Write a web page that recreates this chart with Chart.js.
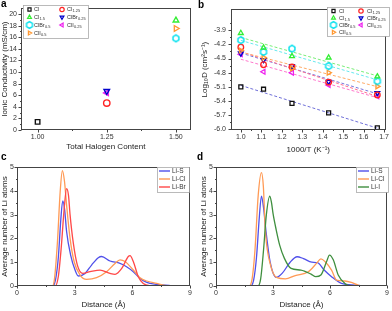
<!DOCTYPE html>
<html><head><meta charset="utf-8">
<script src="https://cdn.jsdelivr.net/npm/chart.js@4"></script>
<style>
body{margin:0;background:#fff;width:392px;height:311px;overflow:hidden;position:relative}
canvas{position:absolute}
</style></head><body>
<canvas id="ca" width="196" height="155" style="left:0;top:0"></canvas>
<canvas id="cb" width="196" height="155" style="left:196px;top:0"></canvas>
<canvas id="cc" width="196" height="161" style="left:0;top:150px"></canvas>
<canvas id="cd" width="196" height="161" style="left:196px;top:150px"></canvas>
<script>
// ---------- DATA ----------
const seriesMain = ['Cl','Cl','ClBr','ClI','Cl','ClBr','ClI'];
const seriesSub  = ['','1.5','0.5','0.5','1.25','0.25','0.25'];
const seriesColor = ['#111111','#33ee33','#00e0ee','#ff9933','#ff2222','#0000cc','#ee22ee'];
const fitColor    = ['#7070d8','#77ee77','#66e8ee','#ffaa66','#ff6f8f','#7777dd','#ff77cc'];
// panel a
const halogenContent = [1.00, 1.50, 1.50, 1.50, 1.25, 1.25, 1.25];
const conductivity   = [1.4, 18.9, 15.8, 17.5, 4.65, 6.7, 6.4];
const aXTicks = [1.00, 1.25, 1.50];
const aXMinor = [1.125, 1.375];
const aYTicks = [0,2,4,6,8,10,12,14,16,18,20];
const aYMinor = [1,3,5,7,9,11,13,15,17,19];
// panel b
const invT = [1.0, 1.111, 1.25, 1.429, 1.667];
const logD_Cl      = [-5.10, -5.15, -5.45, -5.65, -5.97];
const logD_Cl15    = [-3.96, -4.27, -4.45, -4.48, -4.88];
const logD_ClBr05  = [-4.11, -4.36, -4.29, -4.66, -4.98];
const logD_ClI05   = [-4.33, -4.48, -4.71, -4.80, -5.09];
const logD_Cl125   = [-4.26, -4.63, -4.68, -5.00, -5.27];
const logD_ClBr025 = [-4.39, -4.53, -4.66, -4.99, -5.23];
const logD_ClI025  = [-4.41, -4.78, -4.80, -5.06, -5.30];
const bXTicks = [1.0,1.1,1.2,1.3,1.4,1.5,1.6,1.7];
const bXMinor = [1.05,1.15,1.25,1.35,1.45,1.55,1.65];
const bYTicks = [-6.0,-5.7,-5.4,-5.1,-4.8,-4.5,-4.2,-3.9];
const bYMinor = [-5.85,-5.55,-5.25,-4.95,-4.65,-4.35,-4.05,-3.75];
// panel c
const cS_x  = [0,1.85,2.0,2.15,2.28,2.38,2.48,2.58,2.79,3.02,3.19,3.54,3.88,4.23,4.4,4.84,5.36,5.7,6.05,6.4,6.75,7.27,7.96,8.5,9];
const cS_y  = [0,0,0.25,1.2,2.8,3.58,3.2,2.29,1.3,0.67,0.42,0.53,0.88,1.19,1.24,1.05,0.95,0.81,0.6,0.32,0.15,0.07,0.02,0,0];
const cCl_x = [0,1.84,1.95,2.1,2.25,2.36,2.47,2.58,2.76,2.97,3.28,3.62,4.14,4.66,5.1,5.36,5.62,6.05,6.4,6.75,7.27,7.6,7.96,9];
const cCl_y = [0,0,0.3,1.8,4.0,4.85,4.4,3.4,2.0,1.03,0.46,0.28,0.35,0.6,0.95,1.1,1.03,0.67,0.35,0.21,0.11,0.04,0,0];
const cBr_x = [0,1.98,2.15,2.3,2.45,2.58,2.68,2.76,2.93,3.14,3.42,3.8,4.32,4.84,5.1,5.45,5.79,5.88,6.05,6.31,6.57,6.92,7.2,9];
const cBr_y = [0,0,0.4,1.6,3.2,4.09,3.8,3.0,1.8,0.88,0.53,0.6,0.67,0.53,0.49,0.74,1.24,1.28,1.03,0.39,0.11,0.01,0,0];
// panel d
const dS_x  = [0,1.82,1.98,2.13,2.28,2.39,2.5,2.63,2.85,3.17,3.5,3.9,4.27,4.6,5.04,5.34,5.69,6.08,6.6,7.3,8.3,9];
const dS_y  = [0,0,0.25,1.2,2.9,3.78,3.3,2.3,1.0,0.36,0.55,1.0,1.23,1.15,1.0,0.98,0.67,0.39,0.11,0.04,0,0];
const dCl_x = [0,1.74,1.9,2.05,2.22,2.39,2.49,2.6,2.87,3.21,3.65,4.17,4.86,5.3,5.52,5.73,6.08,6.34,6.78,7.12,7.47,7.8,9];
const dCl_y = [0,0,0.3,1.5,3.8,4.76,4.2,2.29,0.88,0.35,0.3,0.44,0.6,0.96,1.14,1.03,0.67,0.25,0.21,0.15,0.04,0,0];
const dI_x  = [0,2.2,2.35,2.5,2.65,2.83,2.92,3.0,3.17,3.35,3.6,3.95,4.47,5.0,5.25,5.52,5.82,5.97,6.17,6.43,6.78,7.12,9];
const dI_y  = [0,0,0.3,1.5,3.0,3.78,3.5,3.05,2.35,1.72,1.16,0.74,0.67,0.5,0.39,0.46,1.03,1.3,1.1,0.46,0.11,0.01,0];
const cdXTicks = [0,3,6,9];
const cdXMinor = [1.5,4.5,7.5];
const cdYTicks = [0,1,2,3,4,5];
const cdYMinor = [0.5,1.5,2.5,3.5,4.5];
const rdfColor = {S:'#5050ea', Cl:'#ff9a55', Br:'#ff4848', I:'#3f8f3f'};

// ---------- SETUP ----------
const FF = '"Liberation Sans", Arial, Helvetica, sans-serif';
Chart.defaults.font.family = FF;
Chart.defaults.color = '#333';
Chart.defaults.animation = false;

function hexImg(color){
  const c=document.createElement('canvas'); c.width=c.height=10;
  const g=c.getContext('2d'); g.strokeStyle=color; g.lineWidth=1.4; g.beginPath();
  for(let i=0;i<6;i++){const t=Math.PI/3*i+Math.PI/6; g.lineTo(5+3.4*Math.cos(t),5+3.4*Math.sin(t));}
  g.closePath(); g.stroke(); return c;
}
const seriesStyle = ['rect','triangle',hexImg(seriesColor[2]),'triangle','circle','triangle','triangle'];
const seriesRot   = [0,0,0,90,0,180,-90];

function axis(min,max,ticks,fmt,title,size,isX,tpad,lpad){
  return {type:'linear',min,max,
    afterBuildTicks:s=>{s.ticks=ticks.map(v=>({value:v}));},
    afterFit:s=>{ if(isX) s.height=size; else s.width=size; },
    grid:{display:false,drawTicks:false}, border:{display:false},
    ticks:{font:{size:7},color:'#333',padding:lpad,autoSkip:false,maxRotation:0,minRotation:0,callback:v=>fmt(v)},
    title:{display:true,text:title,font:{size:8},color:'#222',padding:tpad}
  };
}

function subText(ctx,main,sub,x,y,size){
  ctx.font=size+'px '+FF; ctx.fillText(main,x,y);
  const w=ctx.measureText(main).width;
  if(sub){ctx.font=(size*0.72)+'px '+FF; ctx.fillText(sub,x+w+0.2,y+size*0.32);}
}

function markerLegend(bx,by,bw,bh,colX,textX,rowY,order){
  return ctx=>{
    ctx.fillStyle='#fff'; ctx.fillRect(bx,by,bw,bh);
    ctx.strokeStyle='#aaa'; ctx.lineWidth=0.8; ctx.strokeRect(bx+0.5,by+0.5,bw,bh);
    order.forEach((idx,k)=>{
      const col=k<4?0:1, row=k<4?k:k-4;
      ctx.save();
      ctx.strokeStyle=seriesColor[idx]; ctx.fillStyle='rgba(0,0,0,0)'; ctx.lineWidth=1.2;
      Chart.helpers.drawPoint(ctx,{pointStyle:seriesStyle[idx],rotation:seriesRot[idx],radius:2.2,borderWidth:1.2},colX[col],rowY[row]);
      ctx.restore();
      ctx.fillStyle='#333'; ctx.textBaseline='middle';
      subText(ctx,seriesMain[idx],seriesSub[idx],textX[col],rowY[row],5.5);
    });
  };
}
function lineLegend(bx,by,bw,bh,names,colors){
  return ctx=>{
    ctx.fillStyle='#fff'; ctx.fillRect(bx,by,bw,bh);
    ctx.strokeStyle='#aaa'; ctx.lineWidth=0.8; ctx.strokeRect(bx+0.5,by+0.5,bw,bh);
    names.forEach((n,i)=>{
      const y=by+4+i*8;
      ctx.strokeStyle=colors[i]; ctx.lineWidth=1.4; ctx.beginPath(); ctx.moveTo(bx+2,y); ctx.lineTo(bx+13,y); ctx.stroke();
      ctx.fillStyle='#333'; ctx.textBaseline='middle'; ctx.font='6.5px '+FF; ctx.fillText(n,bx+15,y);
    });
  };
}

const deco = {
  id:'deco',
  afterDraw(chart,args,o){
    const {ctx,chartArea:a}=chart; const sx=chart.scales.x, sy=chart.scales.y;
    ctx.save();
    ctx.strokeStyle='#444'; ctx.lineWidth=1;
    const L=Math.round(a.left)+0.5, T=Math.round(a.top)+0.5, R=Math.round(a.right)-0.5, B=Math.round(a.bottom)-0.5;
    ctx.strokeRect(L,T,R-L,B-T);
    ctx.beginPath();
    const tick=(vals,len,hor)=>vals.forEach(v=>{
      if(hor){const p=Math.round(sx.getPixelForValue(v))+0.5; ctx.moveTo(p,B); ctx.lineTo(p,B+len);}
      else {const p=Math.round(sy.getPixelForValue(v))+0.5; ctx.moveTo(L,p); ctx.lineTo(L-len,p);}
    });
    tick(o.xMajor,3,true); tick(o.xMinor,1.5,true); tick(o.yMajor,3,false); tick(o.yMinor,1.5,false);
    ctx.stroke();
    if(o.legend) o.legend(ctx);
    ctx.fillStyle='#000'; ctx.font='bold 10px '+FF; ctx.textBaseline='alphabetic';
    ctx.fillText(o.letter,o.lx,o.ly);
    ctx.restore();
  }
};

function base(){return {responsive:false,devicePixelRatio:1,animation:false,plugins:{legend:{display:false},tooltip:{enabled:false}}};}

// ---------- PANEL A ----------
{
  const opts=base();
  opts.layout={padding:{top:5,right:2,left:0,bottom:0}};
  opts.scales={
    x:axis(0.94,1.553,aXTicks,v=>v.toFixed(2),'Total Halogen Content',25,true,{top:0,bottom:3},3),
    y:axis(0,21,aYTicks,v=>String(v),'Ionic Conductivity (mS/cm)',21,false,{top:0,bottom:0},4)
  };
  opts.plugins.deco={xMajor:aXTicks,xMinor:aXMinor,yMajor:aYTicks,yMinor:aYMinor,letter:'a',lx:1,ly:7,
    legend:markerLegend(23,5,65,33,[29.5,62],[34,67],[9.5,17.2,25,33],[0,1,2,3,4,5,6])};
  const ds=halogenContent.map((h,i)=>({data:[{x:h,y:conductivity[i]}],pointStyle:seriesStyle[i],pointRotation:seriesRot[i],
    pointRadius:3.2,pointBorderWidth:1.4,borderColor:seriesColor[i],backgroundColor:'rgba(0,0,0,0)'}));
  new Chart(document.getElementById('ca'),{type:'scatter',data:{datasets:ds},options:opts,plugins:[deco]});
}

// ---------- PANEL B ----------
{
  const series=[logD_Cl,logD_Cl15,logD_ClBr05,logD_ClI05,logD_Cl125,logD_ClBr025,logD_ClI025];
  const opts=base();
  opts.layout={padding:{top:2,right:3,left:0,bottom:0}};
  opts.scales={
    x:axis(0.952,1.707,bXTicks,v=>v.toFixed(1),'1000/T (K\u207B\u00B9)',25,true,{top:0,bottom:0},3),
    y:axis(-6.014,-3.454,bYTicks,v=>v.toFixed(1),'Log\u2081\u2080D (cm\u00B2s\u207B\u00B9)',35,false,{top:3.5,bottom:0},5)
  };
  opts.plugins.deco={xMajor:bXTicks,xMinor:bXMinor,yMajor:bYTicks,yMinor:bYMinor,letter:'b',lx:2,ly:8,
    legend:markerLegend(131,7,62,29,[137.5,165],[143,171],[11,18,25,32.3],[0,1,2,3,4,5,6])};
  const ds=[];
  series.forEach((s,i)=>{
    ds.push({data:invT.map((x,j)=>({x,y:s[j]})),pointStyle:seriesStyle[i],pointRotation:seriesRot[i],
      pointRadius:2.8,pointBorderWidth:1.3,borderColor:seriesColor[i],backgroundColor:'rgba(0,0,0,0)',order:1});
  });
  series.forEach((s,i)=>{
    // least-squares fit of the series
    const n=invT.length, mx=invT.reduce((a,b)=>a+b)/n, my=s.reduce((a,b)=>a+b)/n;
    let sxy=0,sxx=0; invT.forEach((x,j)=>{sxy+=(x-mx)*(s[j]-my); sxx+=(x-mx)*(x-mx);});
    const k=sxy/sxx, b0=my-k*mx, x0=invT[0], x1=invT[n-1];
    ds.push({data:[{x:x0,y:b0+k*x0},{x:x1,y:b0+k*x1}],showLine:true,pointRadius:0,borderColor:fitColor[i],
      borderWidth:1,borderDash:[3,2],order:2});
  });
  new Chart(document.getElementById('cb'),{type:'scatter',data:{datasets:ds},options:opts,plugins:[deco]});
}

// ---------- PANELS C, D ----------
function rdfChart(id,curves,names,colors,letter,yw,rp,ytp,legX){
  const opts=base();
  opts.layout={padding:{top:17,right:rp,left:0,bottom:0}};
  opts.scales={
    x:axis(0,9,cdXTicks,v=>String(v),'Distance (\u00C5)',25,true,{top:0,bottom:1.2},3),
    y:axis(0,5,cdYTicks,v=>String(v),'Average number of Li atoms',yw,false,{top:ytp,bottom:0},3)
  };
  opts.plugins.deco={xMajor:cdXTicks,xMinor:cdXMinor,yMajor:cdYTicks,yMinor:cdYMinor,letter,lx:1,ly:10,
    legend:lineLegend(legX,17,196-rp-legX-1,25,names,colors)};
  const ds=curves.map((c,i)=>({data:c[0].map((x,j)=>({x,y:c[1][j]})),showLine:true,pointRadius:0,borderColor:colors[i],
    borderWidth:1.3,cubicInterpolationMode:'monotone',order:curves.length-i}));
  new Chart(document.getElementById(id),{type:'scatter',data:{datasets:ds},options:opts,plugins:[deco]});
}
rdfChart('cc',[[cS_x,cS_y],[cCl_x,cCl_y],[cBr_x,cBr_y]],['Li-S','Li-Cl','Li-Br'],[rdfColor.S,rdfColor.Cl,rdfColor.Br],'c',17,6,0,157);
rdfChart('cd',[[dS_x,dS_y],[dCl_x,dCl_y],[dI_x,dI_y]],['Li-S','Li-Cl','Li-I'],[rdfColor.S,rdfColor.Cl,rdfColor.I],'d',20,3,2.5,160);
</script>
</body></html>
